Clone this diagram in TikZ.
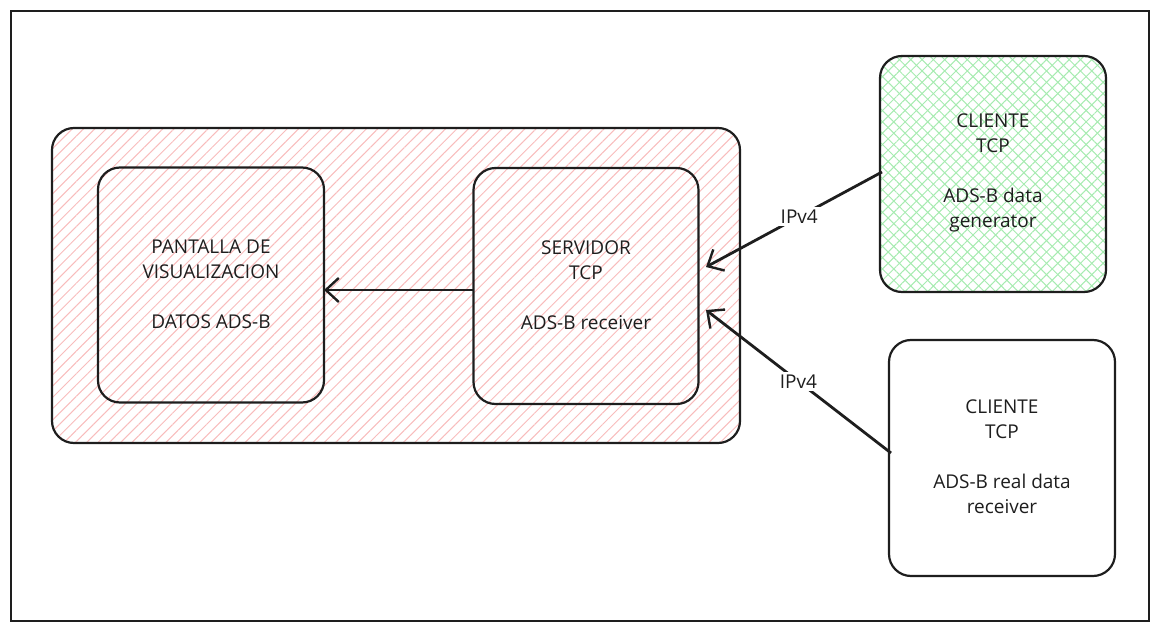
\documentclass[tikz,border=0pt]{standalone}
\usepackage{fontspec}
\setmainfont{Open Sans}
\usetikzlibrary{arrows.meta,patterns.meta}
\definecolor{ink}{HTML}{1E1E1E}
\definecolor{pinkhatch}{HTML}{F8BCBC}
\definecolor{greenhatch}{HTML}{A6EBB0}
\tikzset{
  box/.style={draw=ink, line width=2.2pt, rounded corners=22pt},
  pinkfill/.style={pattern={Lines[angle=45,distance=8pt,line width=1pt]}, pattern color=pinkhatch},
  greenA/.style={pattern={Lines[angle=45,distance=8pt,line width=1pt]}, pattern color=greenhatch},
  greenB/.style={pattern={Lines[angle=-45,distance=8pt,line width=1pt]}, pattern color=greenhatch},
  txt/.style={text=ink, font=\fontsize{19}{25}\selectfont, align=center},
  conn/.style={draw=ink, line width=2.8pt, -{Straight Barb[length=13pt,width=24pt,line width=2.4pt]}},
  lab/.style={fill=white, text=ink, font=\fontsize{19}{20}\selectfont, inner sep=3pt},
}
\begin{document}
\begin{tikzpicture}[x=1pt,y=-1pt]
\useasboundingbox (0,0) rectangle (1160,631);
\draw[ink, line width=1.4pt] (11,11) rectangle (1149,621);
% big pink container
\path[box, pinkfill] (52,128) rectangle (740,443);
% inner boxes
\node[box, minimum width=226pt, minimum height=235pt] (pant) at (211,285) {};
\node[txt] at (211,284) {PANTALLA DE\\VISUALIZACION\\[25pt]DATOS ADS-B};
\node[box, minimum width=225pt, minimum height=236pt] (serv) at (586,286) {};
\node[txt] at (586,285) {SERVIDOR\\TCP\\[25pt]ADS-B receiver};
\path[rounded corners=22pt, greenA] (880,56) rectangle (1106,292);
\path[rounded corners=22pt, greenB] (880,56) rectangle (1106,292);
\node[box, minimum width=226pt, minimum height=236pt] (gen) at (993,174) {};
\node[txt] at (993,173) {CLIENTE\\TCP\\[25pt]ADS-B data\\generator};
\node[box, fill=white, minimum width=226pt, minimum height=236pt] (real) at (1002,458) {};
\node[txt] at (1002,457) {CLIENTE\\TCP\\[25pt]ADS-B real data\\receiver};
% connectors
\coordinate (servL) at (473,290);
\coordinate (pantR) at (324,290);
\draw[conn] (servL) -- (pantR);
\coordinate (genL) at (882,172);
\coordinate (servR1) at (706,267);
\draw[conn] (genL) -- node[lab, pos=0.47] {IPv4} (servR1);
\coordinate (realL) at (891,453);
\coordinate (servR2) at (706,310);
\draw[conn] (realL) -- node[lab, pos=0.5] {IPv4} (servR2);
\end{tikzpicture}
\end{document}
